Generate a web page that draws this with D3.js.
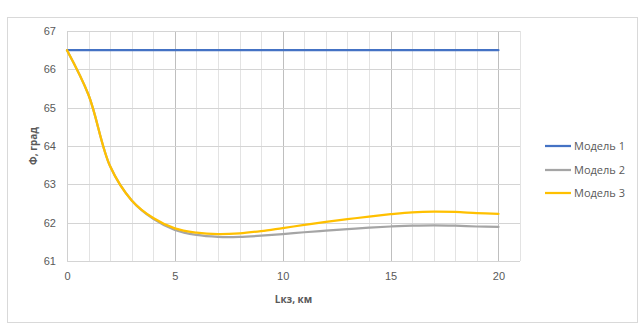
<!DOCTYPE html>
<html>
<head>
<meta charset="utf-8">
<script src="https://cdn.jsdelivr.net/npm/d3@7"></script>
<style>
  html, body { margin: 0; padding: 0; background: #fff; }
  svg { display: block; font-family: "Open Sans", "Liberation Sans", sans-serif; }
</style>
</head>
<body>
<svg id="chart" width="643" height="327"></svg>
<script>
// Distance along the line, km
const distance = [0,1,2,3,4,5,6,7,8,9,10,11,12,13,14,15,16,17,18,19,20];
// Angle, degrees, for each model
const model1 = [66.5,66.5,66.5,66.5,66.5,66.5,66.5,66.5,66.5,66.5,66.5,66.5,66.5,66.5,66.5,66.5,66.5,66.5,66.5,66.5,66.5];
const model2 = [66.5,65.33,63.47,62.58,62.1,61.81,61.68,61.63,61.63,61.66,61.7,61.75,61.79,61.83,61.87,61.9,61.92,61.93,61.92,61.9,61.89];
const model3 = [66.5,65.33,63.47,62.58,62.12,61.85,61.74,61.7,61.72,61.78,61.86,61.94,62.02,62.09,62.16,62.22,62.27,62.29,62.28,62.25,62.23];
const seriesNames = ["Модель 1", "Модель 2", "Модель 3"];
const seriesColors = ["#4472C4", "#A5A5A5", "#FFC000"];
const xTicks = [0, 5, 10, 15, 20];
const yTicks = [61, 62, 63, 64, 65, 66, 67];

const svg = d3.select("#chart");

// chart area frame
svg.append("rect")
  .attr("x", 7.5).attr("y", 17.5).attr("width", 630).attr("height", 305)
  .attr("fill", "#fff").attr("stroke", "#d9d9d9");

const x = d3.scaleLinear().domain([0, 21]).range([67, 520]);
const y = d3.scaleLinear().domain([61, 67]).range([261, 31]);

const grid = svg.append("g");
// vertical grid: minor every km, major every 5 km
d3.range(1, 22).forEach(v => {
  grid.append("line")
    .attr("x1", Math.round(x(v)) + 0.5).attr("x2", Math.round(x(v)) + 0.5)
    .attr("y1", y(67)).attr("y2", y(61))
    .attr("stroke", v % 5 === 0 ? "#bfbfbf" : "#e3e3e3")
    .attr("stroke-width", 1);
});
// horizontal grid
yTicks.forEach(v => {
  grid.append("line")
    .attr("x1", x(0)).attr("x2", x(21))
    .attr("y1", Math.round(y(v)) + 0.5).attr("y2", Math.round(y(v)) + 0.5)
    .attr("stroke", "#d4d4d4").attr("stroke-width", 1);
});
// left axis line
grid.append("line")
  .attr("x1", Math.round(x(0)) + 0.5).attr("x2", Math.round(x(0)) + 0.5)
  .attr("y1", y(67)).attr("y2", y(61))
  .attr("stroke", "#d0d0d0");

// axes (labels only)
const xAxis = svg.append("g")
  .attr("transform", `translate(0,${y(61)})`)
  .call(d3.axisBottom(x).tickValues(xTicks).tickSize(0).tickPadding(11).tickFormat(d3.format("d")));
xAxis.select(".domain").remove();
xAxis.selectAll("text").attr("fill", "#595959").style("font-size", "11px");

const yAxis = svg.append("g")
  .attr("transform", `translate(${x(0)},0)`)
  .call(d3.axisLeft(y).tickValues(yTicks).tickSize(0).tickPadding(11).tickFormat(d3.format("d")));
yAxis.select(".domain").remove();
yAxis.selectAll("text").attr("fill", "#595959").style("font-size", "11px");

// axis titles
svg.append("text")
  .attr("x", (x(0) + x(21)) / 2).attr("y", 303)
  .attr("text-anchor", "middle")
  .attr("fill", "#595959").style("font-size", "10px").style("font-weight", "bold")
  .text("Lкз, км");
svg.append("text")
  .attr("transform", `translate(37,${(y(61) + y(67)) / 2}) rotate(-90)`)
  .attr("text-anchor", "middle")
  .attr("fill", "#595959").style("font-size", "10px").style("font-weight", "bold")
  .text("Ф, град");

// series
const line = d3.line()
  .x((d, i) => x(distance[i]))
  .y(d => y(d))
  .curve(d3.curveCatmullRom.alpha(0.5));

[model1, model2, model3].forEach((vals, k) => {
  svg.append("path")
    .datum(vals)
    .attr("d", line)
    .attr("fill", "none")
    .attr("stroke", seriesColors[k])
    .attr("stroke-width", 2.25)
    .attr("stroke-linecap", "round");
});

// legend
const legendY = [146, 170, 193];
seriesNames.forEach((name, k) => {
  svg.append("line")
    .attr("x1", 545).attr("x2", 571)
    .attr("y1", legendY[k]).attr("y2", legendY[k])
    .attr("stroke", seriesColors[k]).attr("stroke-width", 2.25);
  svg.append("text")
    .attr("x", 574).attr("y", legendY[k]).attr("dy", "0.35em")
    .attr("fill", "#595959").style("font-size", "11px")
    .text(name);
});
</script>
</body>
</html>
